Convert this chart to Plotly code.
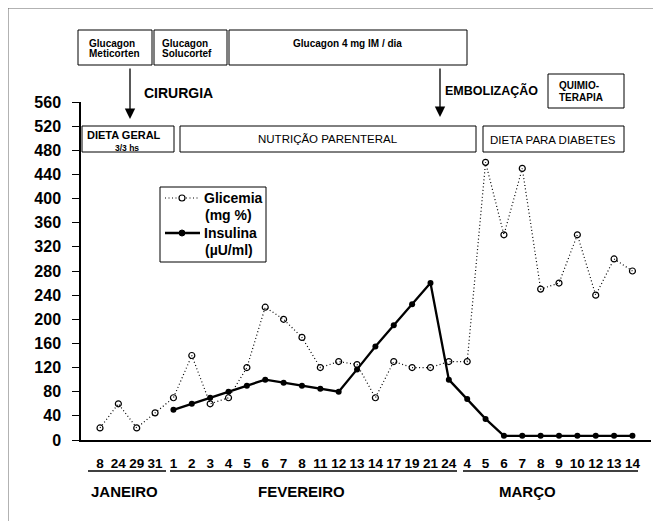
import plotly.graph_objects as go

# ---- data ----
day_labels = ["8", "24", "29", "31",
              "1", "2", "3", "4", "5", "6", "7", "8", "11", "12", "13", "14", "17", "19", "21", "24",
              "4", "5", "6", "7", "8", "9", "10", "12", "13", "14"]
glicemia = [20, 60, 20, 45,
            70, 140, 60, 70, 120, 220, 200, 170, 120, 130, 125, 70, 130, 120, 120, 130,
            130, 460, 340, 450, 250, 260, 340, 240, 300, 280]
insulina = [None, None, None, None,
            50, 60, 70, 80, 90, 100, 95, 90, 85, 80, 117, 155, 190, 225, 260, 100,
            68, 35, 7, 7, 7, 7, 7, 7, 7, 7]
months = ["JANEIRO", "FEVEREIRO", "MARÇO"]
y_ticks = list(range(0, 561, 40))

x_idx = list(range(len(day_labels)))

# ---- layout geometry (page pixels; the page body has an 8px margin) ----
OFF = 8
W, H = 661 - OFF, 521 - OFF
AX_L, AX_R, AX_T, AX_B = 81, 651, 102, 440   # plot area in page pixels
L, R, T, B = AX_L - OFF, (W + OFF) - AX_R, AX_T - OFF, (H + OFF) - AX_B
PW, PH = AX_R - AX_L, AX_B - AX_T

def px(x):
    return (x - AX_L) / PW

def py(y):
    return (AX_B - y) / PH

FONT = "Liberation Sans, Arial, sans-serif"
DOT = "1px,2.5px"

fig = go.Figure()
fig.add_trace(go.Scatter(
    x=x_idx, y=glicemia, mode="lines+markers", name="Glicemia",
    line=dict(color="black", width=1.2, dash=DOT),
    marker=dict(symbol="circle-open", size=6, color="black", line=dict(width=1.2)),
))
fig.add_trace(go.Scatter(
    x=x_idx, y=insulina, mode="lines+markers", name="Insulina",
    line=dict(color="black", width=2.3),
    marker=dict(symbol="circle", size=6, color="black"),
    connectgaps=False,
))

shapes = []
annotations = []

def box(x0, y0, x1, y1, width=1):
    shapes.append(dict(type="rect", xref="paper", yref="paper",
                       x0=px(x0), x1=px(x1), y0=py(y1), y1=py(y0),
                       line=dict(color="black", width=width), fillcolor="rgba(0,0,0,0)"))

def hline(x0, x1, y, width=1, color="black", dash="solid"):
    shapes.append(dict(type="line", xref="paper", yref="paper", x0=px(x0), x1=px(x1),
                       y0=py(y), y1=py(y), line=dict(color=color, width=width, dash=dash)))

def text(x, y, s, size=11, xanchor="center", align="center", bold=True):
    annotations.append(dict(xref="paper", yref="paper", x=px(x), y=py(y), text=s,
                            showarrow=False, xanchor=xanchor, yanchor="middle", align=align,
                            font=dict(family=FONT, size=size, color="black",
                                      weight="bold" if bold else "normal")))

# page frame (top and left edges)
hline(8, 661, 8, 1, "#666")
shapes.append(dict(type="line", xref="paper", yref="paper", x0=px(8), x1=px(8), y0=py(8), y1=py(521),
                   line=dict(color="#666", width=1)))

# top treatment boxes
box(78, 30, 152, 65)
text(87, 43, "Glucagon", 10, "left")
text(87, 54, "Meticorten", 10, "left")
box(154, 30, 227, 65)
text(160, 43, "Glucagon", 10, "left")
text(160, 54, "Solucortef", 10, "left")
box(229, 30, 467, 65)
text(347, 43, "Glucagon 4 mg IM / dia", 10)

# arrows + events
annotations.append(dict(xref="paper", yref="paper", x=px(130), y=py(119), ax=0, ay=-52,
                        text="", showarrow=True, arrowhead=2, arrowsize=1.6, arrowwidth=1.3,
                        arrowcolor="black"))
annotations.append(dict(xref="paper", yref="paper", x=px(440), y=py(117), ax=0, ay=-50,
                        text="", showarrow=True, arrowhead=2, arrowsize=1.6, arrowwidth=1.3,
                        arrowcolor="black"))
text(178, 93, "CIRURGIA", 14)
text(491, 91, "EMBOLIZAÇÃO", 12.5)
box(548, 74, 624, 108)
text(557, 85, "QUIMIO-", 10, "left")
text(557, 97, "TERAPIA", 10, "left")

# diet boxes
box(82, 126, 174, 152)
text(124, 135, "DIETA GERAL", 11)
text(127, 148, "3/3 hs", 8.5)
box(180, 126, 476, 152)
text(328, 139, "NUTRIÇÃO PARENTERAL", 11.5, bold=False)
box(483, 126, 624, 152)
text(553, 140, "DIETA PARA DIABETES", 11.5, bold=False)

# legend (drawn as a key box)
box(160, 187, 266, 262)
hline(165, 200, 198, 1.2, "black", DOT)
shapes.append(dict(type="circle", xref="paper", yref="paper",
                   x0=px(179), x1=px(185), y0=py(201), y1=py(195),
                   line=dict(color="black", width=1.2), fillcolor="white"))
hline(165, 200, 233, 2.3)
shapes.append(dict(type="circle", xref="paper", yref="paper",
                   x0=px(179), x1=px(185), y0=py(236), y1=py(230),
                   line=dict(color="black", width=1), fillcolor="black"))
text(202, 198, "Glicemia", 14, "left")
text(203, 215, "(mg %)", 14, "left")
text(202, 233, "Insulina", 14, "left")
text(203, 250, "(\u00b5U/ml)", 14, "left")

# month underlines and labels
for (a, b) in [(88, 166), (170, 457), (463, 638)]:
    hline(a, b, 471, 1.3)
for m, cx in zip(months, [124, 301, 527]):
    text(cx, 491, m, 15)

fig.update_layout(
    width=W, height=H,
    margin=dict(l=L, r=R, t=T, b=B, pad=0),
    paper_bgcolor="white", plot_bgcolor="white",
    showlegend=False,
    shapes=shapes, annotations=annotations,
    xaxis=dict(range=[(AX_L - 100) / 18.36, (AX_R - 100) / 18.36],
               tickvals=x_idx, ticktext=day_labels, ticks="", showgrid=False, zeroline=False,
               showline=True, linecolor="black", linewidth=2,
               tickfont=dict(family=FONT, size=13.5, color="black", weight="bold"),
               ticklabelstandoff=10),
    yaxis=dict(range=[0, 560], tickvals=y_ticks, ticks="outside", ticklen=7, tickwidth=1.3,
               tickcolor="black", showgrid=False, zeroline=False,
               showline=True, linecolor="black", linewidth=1.5,
               tickfont=dict(family=FONT, size=16, color="black", weight="bold"),
               ticklabelstandoff=8),
    font=dict(family=FONT, color="black"),
)

fig.write_html("out.html")
